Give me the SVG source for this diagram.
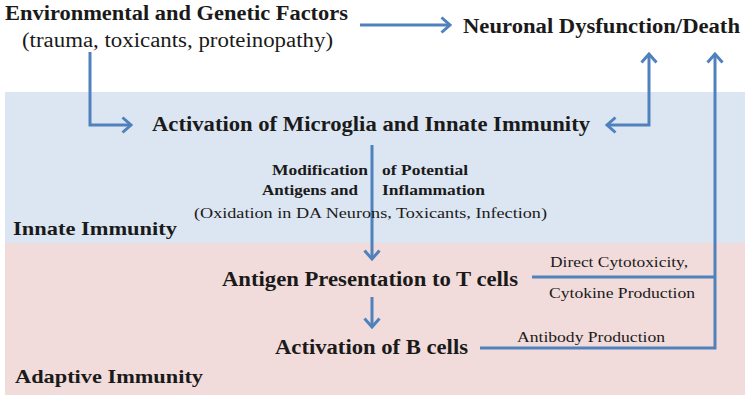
<svg xmlns="http://www.w3.org/2000/svg" width="750" height="401" viewBox="0 0 750 401" font-family="'Liberation Serif', 'Times New Roman', serif">
<defs>
<style>
text{fill:#1a1a1a}
.b{font-weight:bold}
.big{font-size:20px}
.mid{font-size:19px}
.sm{font-size:15px}
.c{fill:none;stroke:#4f81bd;stroke-width:3}
</style>
<marker id="ah" markerUnits="userSpaceOnUse" viewBox="0 0 12 18" refX="10" refY="9" markerWidth="12" markerHeight="18" orient="auto-start-reverse">
<path d="M1.5,1.5 L10,9 L1.5,16.5" fill="none" stroke="#4f81bd" stroke-width="3"/>
</marker>
</defs>
<rect width="750" height="401" fill="#ffffff"/>
<g id="bands">
<rect x="5" y="92" width="740" height="151" fill="#dce6f2"/>
<rect x="5" y="243" width="740" height="152" fill="#f2dcdb"/>
</g>
<g id="connectors">
<path class="c" d="M360,25 H450" marker-end="url(#ah)"/>
<path class="c" d="M90,52 V125 H131" marker-end="url(#ah)"/>
<path class="c" d="M649,54 V125 H607" marker-start="url(#ah)" marker-end="url(#ah)"/>
<path class="c" d="M372,145 V259" marker-end="url(#ah)"/>
<path class="c" d="M372,297 V327" marker-end="url(#ah)"/>
<path class="c" d="M532,277 H715"/>
<path class="c" d="M480,348 H715 V54" marker-end="url(#ah)"/>
</g>
<g id="env">
<text class="b big" x="5" y="20" textLength="343" lengthAdjust="spacingAndGlyphs">Environmental and Genetic Factors</text>
<text class="big" x="22" y="47" textLength="311" lengthAdjust="spacingAndGlyphs">(trauma, toxicants, proteinopathy)</text>
</g>
<g id="neuronal">
<text class="b big" x="463" y="33" textLength="277" lengthAdjust="spacingAndGlyphs">Neuronal Dysfunction/Death</text>
</g>
<g id="microglia">
<text class="b big" x="152" y="131" textLength="438" lengthAdjust="spacingAndGlyphs">Activation of Microglia and Innate Immunity</text>
</g>
<g id="modification">
<text class="b sm" x="272" y="175" textLength="96" lengthAdjust="spacingAndGlyphs">Modification</text>
<text class="b sm" x="382" y="175" textLength="86" lengthAdjust="spacingAndGlyphs">of Potential</text>
<text class="b sm" x="262" y="195" textLength="96" lengthAdjust="spacingAndGlyphs">Antigens and</text>
<text class="b sm" x="382" y="195" textLength="103" lengthAdjust="spacingAndGlyphs">Inflammation</text>
<text class="sm" x="194" y="218" textLength="353" lengthAdjust="spacingAndGlyphs">(Oxidation in DA Neurons, Toxicants, Infection)</text>
</g>
<g id="innate">
<text class="b mid" x="13" y="235" textLength="164" lengthAdjust="spacingAndGlyphs">Innate Immunity</text>
</g>
<g id="antigen">
<text class="b big" x="222" y="286" textLength="296" lengthAdjust="spacingAndGlyphs">Antigen Presentation to T cells</text>
</g>
<g id="bcells">
<text class="b big" x="275" y="354" textLength="193" lengthAdjust="spacingAndGlyphs">Activation of B cells</text>
</g>
<g id="adaptive">
<text class="b mid" x="15" y="383" textLength="188" lengthAdjust="spacingAndGlyphs">Adaptive Immunity</text>
</g>
<g id="labels">
<text class="sm" x="550" y="267" textLength="138" lengthAdjust="spacingAndGlyphs">Direct Cytotoxicity,</text>
<text class="sm" x="549" y="298" textLength="146" lengthAdjust="spacingAndGlyphs">Cytokine Production</text>
<text class="sm" x="517" y="342" textLength="148" lengthAdjust="spacingAndGlyphs">Antibody Production</text>
</g>
</svg>
